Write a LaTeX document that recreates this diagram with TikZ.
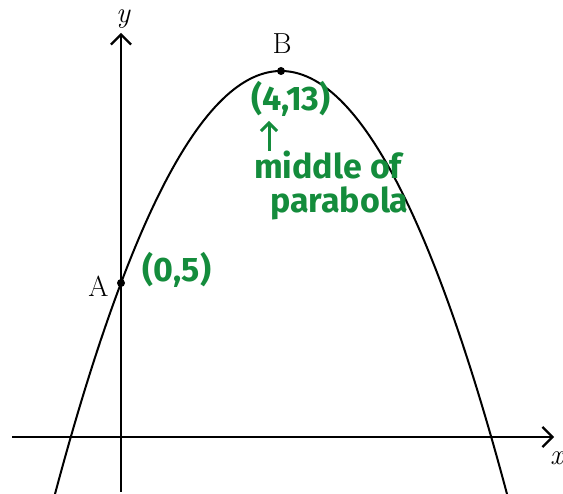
\documentclass[tikz,border=0pt]{standalone}
\usepackage{fontspec}
\usetikzlibrary{arrows.meta}
\newfontfamily\handfont{Fira Sans}
\definecolor{pen}{RGB}{20,140,60}
\begin{document}
\begin{tikzpicture}[x=1pt,y=-1pt,
  axis/.style={line width=2.2pt,-{Straight Barb[length=10pt,width=20pt,line width=2.2pt]}},
  curve/.style={line width=2pt},
  lab/.style={font=\fontsize{29}{32}\selectfont},
  hand/.style={text=pen,font=\handfont\bfseries\fontsize{34}{36}\selectfont},
  dotpt/.style={circle,fill=black,inner sep=0pt,minimum size=8pt}]
\useasboundingbox (0,0) rectangle (563,494);
% axes
\coordinate (xs) at (12,437);
\coordinate (xe) at (554,437);
\coordinate (ys) at (121,492);
\coordinate (ye) at (121,33);
\draw[axis] (xs) -- (xe);
\draw[axis] (ys) -- (ye);
\node[lab,font=\fontsize{29}{32}\selectfont\itshape,inner sep=0pt] (ylab) at (123,19) {y};
\node[lab,font=\fontsize{29}{32}\selectfont\itshape,anchor=west,inner sep=1pt] (xlab) at (549,458) {x};
% parabola
\draw[curve] plot[domain=55:508,samples=120] (\x,{71+((\x-281)*0.091)^2});
% points
\node[dotpt] (A) at (121,283) {};
\node[dotpt] (B) at (281,71) {};
\node[lab,anchor=east] (Alab) at (112,286) {A};
\node[lab] (Blab) at (282,44) {B};
% green notes
\node[hand] (p5) at (177,270) {(0,5)};
\node[hand] (p4) at (291,99) {(4,13)};
\node[hand,anchor=west,inner sep=0pt] (mid) at (254,165) {middle of};
\node[hand,anchor=west,inner sep=0pt] (par) at (270,203) {parabola};
\coordinate (arT) at (269,121);
\coordinate (arB) at (269,151);
\draw[pen,line width=3pt,-{Straight Barb[length=8pt,width=16pt,line width=3pt]}] (arB) -- (arT);
\end{tikzpicture}
\end{document}
